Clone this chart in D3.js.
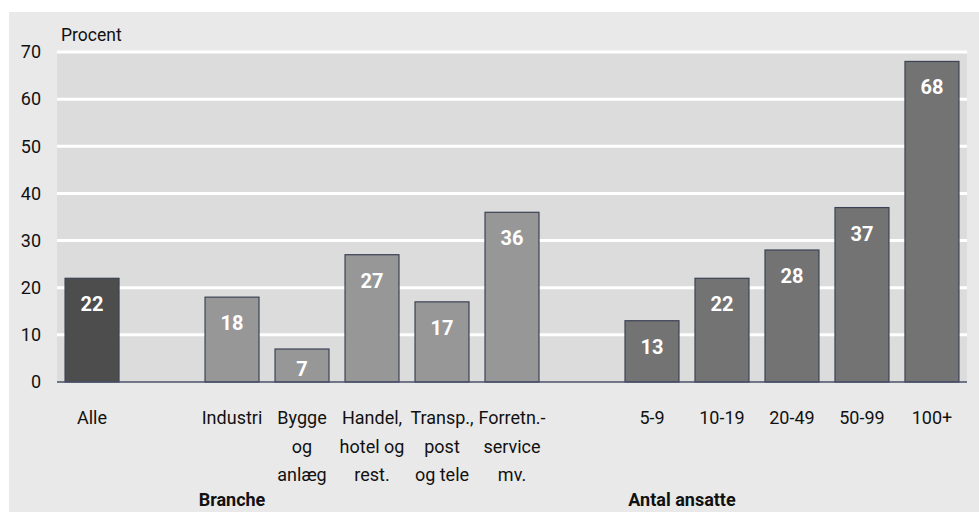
<!DOCTYPE html>
<html>
<head>
<meta charset="utf-8">
<script src="https://cdn.jsdelivr.net/npm/d3@7"></script>
<style>
  body { margin: 0; background: #fff; }
  svg text { font-family: Roboto, "Liberation Sans", sans-serif; fill: #111; }
</style>
</head>
<body>
<div id="chart"></div>
<script>
// slots including empty spacers between groups
var slots = ["Alle", "_g1", "Industri", "Bygge og anlæg", "Handel, hotel og rest.", "Transp., post og tele", "Forretn.-service mv.", "_g2", "5-9", "10-19", "20-49", "50-99", "100+"];
var categories = ["Alle", "Industri", "Bygge og anlæg", "Handel, hotel og rest.", "Transp., post og tele", "Forretn.-service mv.", "5-9", "10-19", "20-49", "50-99", "100+"];
var values = [22, 18, 7, 27, 17, 36, 13, 22, 28, 37, 68];
var groups = ["alle", "branche", "branche", "branche", "branche", "branche", "antal", "antal", "antal", "antal", "antal"];
var labelLines = [["Alle"], ["Industri"], ["Bygge", "og", "anlæg"], ["Handel,", "hotel og", "rest."], ["Transp.,", "post", "og tele"], ["Forretn.-", "service", "mv."], ["5-9"], ["10-19"], ["20-49"], ["50-99"], ["100+"]];
var yTicks = [0, 10, 20, 30, 40, 50, 60, 70];

var W = 979, H = 512;
var m = { left: 57, right: 12, top: 52, bottom: 130 };
var colors = { alle: "#4d4d4d", branche: "#979797", antal: "#737373" };

var svg = d3.select("#chart").append("svg").attr("width", W).attr("height", H);

svg.append("rect").attr("x", 9).attr("y", 12).attr("width", W - 9).attr("height", H - 12).attr("fill", "#e9e9e9");

var x = d3.scaleBand().domain(slots).range([m.left, W - m.right]).paddingInner(0.229).paddingOuter(0.115);
var y = d3.scaleLinear().domain([0, 70]).range([H - m.bottom, m.top]);

svg.append("rect").attr("x", m.left).attr("y", y(70)).attr("width", W - m.right - m.left).attr("height", y(0) - y(70)).attr("fill", "#dcdcdc");

svg.selectAll(".grid").data(yTicks.filter(function(d){ return d > 0 })).enter().append("line")
  .attr("x1", m.left).attr("x2", W - m.right)
  .attr("y1", function(d){ return y(d) }).attr("y2", function(d){ return y(d) })
  .attr("stroke", "#fff").attr("stroke-width", 3);

var yAxis = svg.append("g").attr("transform", "translate(" + (m.left - 16) + ",0)")
  .call(d3.axisLeft(y).tickValues(yTicks).tickSize(0).tickPadding(0));
yAxis.select(".domain").remove();
yAxis.selectAll("text").attr("font-size", 18).style("font-family", "Roboto, sans-serif").attr("fill", "#111");

svg.append("text").attr("x", 61).attr("y", 41).attr("font-size", 17.5).text("Procent");

var bars = categories.map(function(c, i){ return { cat: c, v: values[i], g: groups[i], lines: labelLines[i] } });

svg.selectAll(".bar").data(bars).enter().append("rect")
  .attr("x", function(d){ return x(d.cat) })
  .attr("width", x.bandwidth())
  .attr("y", function(d){ return y(d.v) })
  .attr("height", function(d){ return y(0) - y(d.v) })
  .attr("fill", function(d){ return colors[d.g] })
  .attr("stroke", "#3b4255").attr("stroke-width", 1.2);

svg.append("line").attr("x1", m.left).attr("x2", W - m.right).attr("y1", y(0)).attr("y2", y(0))
  .attr("stroke", "#4a5168").attr("stroke-width", 1.5);

svg.selectAll(".val").data(bars).enter().append("text")
  .attr("x", function(d){ return x(d.cat) + x.bandwidth() / 2 })
  .attr("y", function(d){ return Math.min(y(d.v) + 33, y(0) - 6) })
  .attr("text-anchor", "middle").attr("font-size", 20).attr("font-weight", "bold")
  .style("fill", "#fff")
  .text(function(d){ return d.v });

var lbl = svg.selectAll(".lbl").data(bars).enter().append("text")
  .attr("text-anchor", "middle").attr("font-size", 18)
  .attr("x", function(d){ return x(d.cat) + x.bandwidth() / 2 })
  .attr("y", 424);
lbl.selectAll("tspan").data(function(d){ return d.lines }).enter().append("tspan")
  .attr("x", function(){ var p = d3.select(this.parentNode).datum(); return x(p.cat) + x.bandwidth() / 2 })
  .attr("dy", function(d, i){ return i === 0 ? 0 : 28.5 })
  .text(function(d){ return d });

svg.append("text").attr("x", x("Industri") + x.bandwidth() / 2).attr("y", 506).attr("text-anchor", "middle")
  .attr("font-size", 18).attr("font-weight", "bold").text("Branche");
svg.append("text").attr("x", 682).attr("y", 506).attr("text-anchor", "middle")
  .attr("font-size", 18).attr("font-weight", "bold").text("Antal ansatte");
</script>
</body>
</html>
